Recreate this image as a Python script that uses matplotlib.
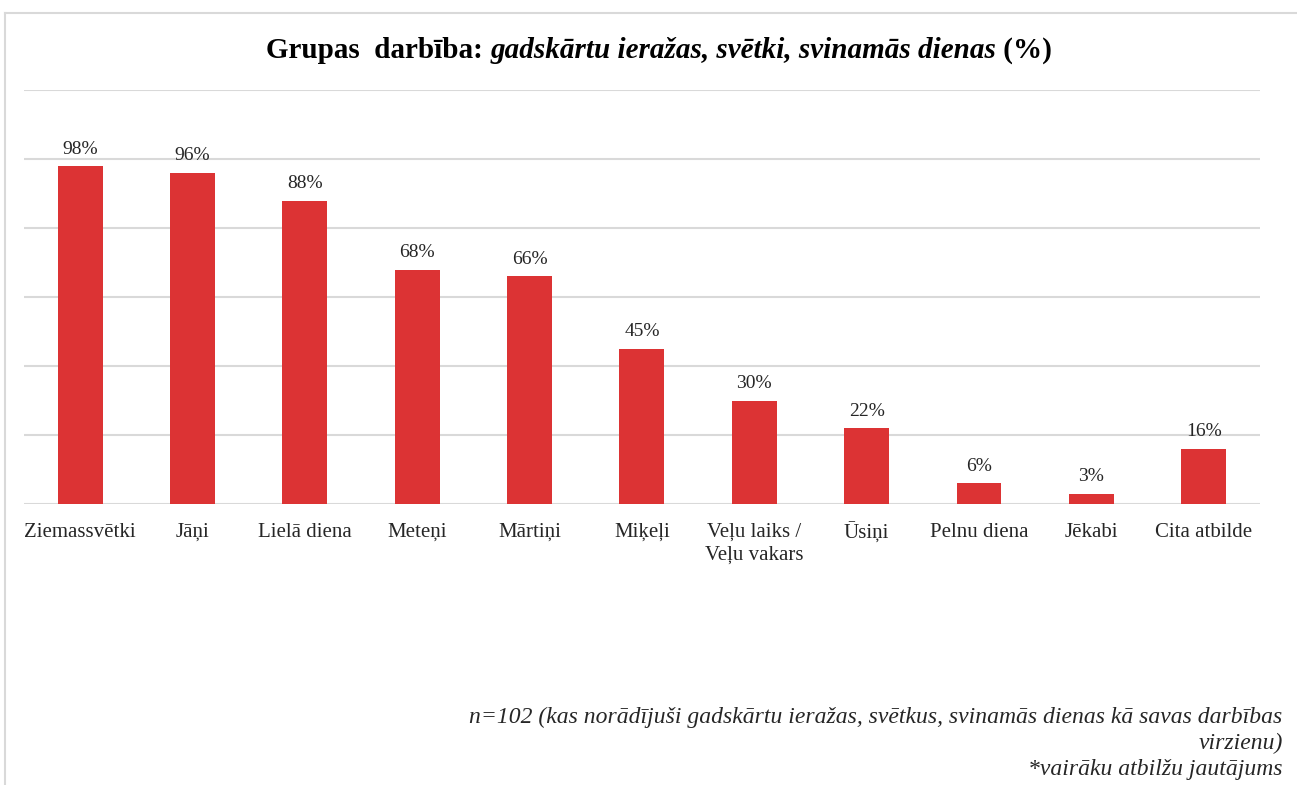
import numpy as np
import matplotlib.pyplot as plt
from matplotlib.lines import Line2D
from matplotlib.offsetbox import TextArea, HPacker, AnchoredOffsetbox

plt.rcParams['font.family'] = ['Liberation Serif', 'DejaVu Serif']

# data
categories = ['Ziemassvētki', 'Jāņi', 'Lielā diena', 'Meteņi', 'Mārtiņi', 'Miķeļi',
              'Veļu laiks /\nVeļu vakars', 'Ūsiņi', 'Pelnu diena', 'Jēkabi', 'Cita atbilde']
values = [98, 96, 88, 68, 66, 45, 30, 22, 6, 3, 16]

bar_color = '#DC3334'
grid_color = '#D9D9D9'

fig = plt.figure(figsize=(12.97, 7.85), dpi=100)
ax = fig.add_axes([0.0184, 0.358, 0.953, 0.527])

x = np.arange(len(categories))
ax.bar(x, values, width=0.4, color=bar_color, zorder=3)
for xi, v in zip(x, values):
    ax.text(xi, v + 2.5, f'{v}%', ha='center', va='bottom', fontsize=14, color='#262626')

ax.set_xlim(-0.5, len(categories) - 0.5)
ax.set_ylim(0, 120)
ax.set_yticks(np.arange(0, 121, 20))
ax.yaxis.grid(True, color=grid_color, linewidth=1.5, zorder=0)
ax.tick_params(axis='y', left=False, labelleft=False)
ax.tick_params(axis='x', bottom=False, pad=10)
ax.set_xticks(x)
ax.set_xticklabels(categories, fontsize=15, color='#262626', linespacing=1.3)
for s in ax.spines.values():
    s.set_visible(False)

# title: bold with italic part
tp = dict(fontsize=21, fontweight='bold', color='black')
t1 = TextArea('Grupas  darbība: ', textprops=tp)
t2 = TextArea('gadskārtu ieražas, svētki, svinamās dienas', textprops=dict(tp, fontstyle='italic'))
t3 = TextArea(' (%)', textprops=tp)
box = HPacker(children=[t1, t2, t3], align='baseline', pad=0, sep=0)
anch = AnchoredOffsetbox(loc='center', child=box, pad=0, frameon=False,
                         bbox_to_anchor=(0.508, 0.936), bbox_transform=fig.transFigure, borderpad=0)
fig.add_artist(anch)

# footnote
fig.text(0.989, 0.053, 'n=102 (kas norādījuši gadskārtu ieražas, svētkus, svinamās dienas kā savas darbības\nvirzienu)\n*vairāku atbilžu jautājums',
         ha='right', va='center', fontsize=17, fontstyle='italic', color='#262626', linespacing=1.33,
         multialignment='right')

# outer frame lines
fig.add_artist(Line2D([0.004, 1.0], [0.984, 0.984], transform=fig.transFigure, color=grid_color, linewidth=1.5))
fig.add_artist(Line2D([0.004, 0.004], [0.0, 0.984], transform=fig.transFigure, color=grid_color, linewidth=1.5))

fig.savefig('out.png', dpi=100)
